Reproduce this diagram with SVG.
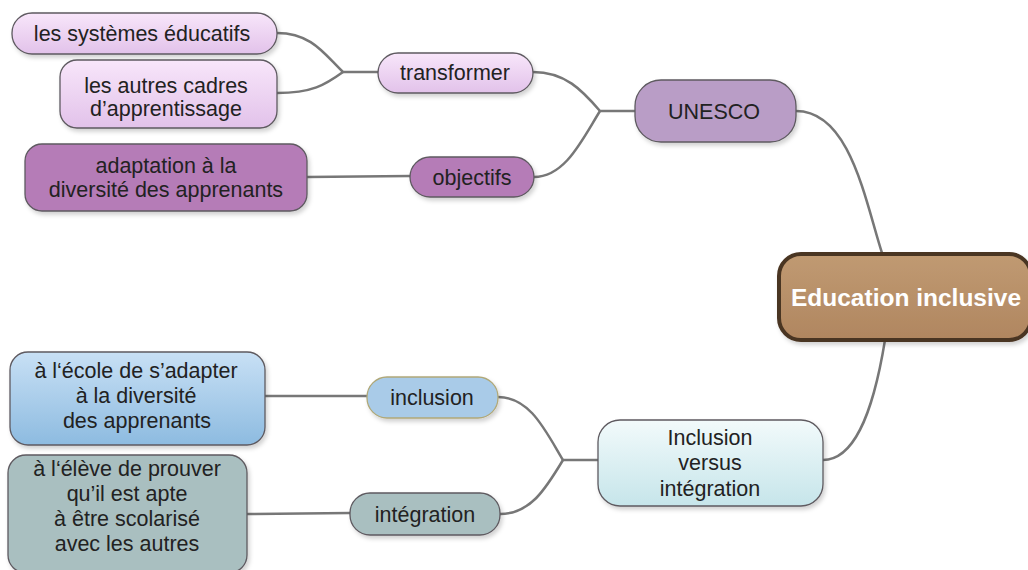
<svg xmlns="http://www.w3.org/2000/svg" width="1028" height="570" viewBox="0 0 1028 570">
<defs>
<filter id="sh" x="-10%" y="-10%" width="130%" height="140%">
<feDropShadow dx="2" dy="3" stdDeviation="2" flood-color="#000" flood-opacity="0.18"/>
</filter>
<linearGradient id="gPink" x1="0" y1="0" x2="0" y2="1"><stop offset="0" stop-color="#f8e6fa"/><stop offset="1" stop-color="#e2c2ea"/></linearGradient>
<linearGradient id="gBlue" x1="0" y1="0" x2="0" y2="1"><stop offset="0" stop-color="#c8e0f5"/><stop offset="1" stop-color="#8dbbe0"/></linearGradient>
<linearGradient id="gCyan" x1="0" y1="0" x2="0" y2="1"><stop offset="0" stop-color="#f2fafb"/><stop offset="1" stop-color="#c6e5ea"/></linearGradient>
<linearGradient id="gBrown" x1="0" y1="0" x2="0" y2="1"><stop offset="0" stop-color="#c09a72"/><stop offset="1" stop-color="#b08660"/></linearGradient>
</defs>
<style>
.n{stroke:#5e5a60;stroke-width:1.3;filter:url(#sh)}
.t{font-family:"Liberation Sans",Arial,sans-serif;font-size:21.5px;fill:#222;text-anchor:middle}
.c{fill:none;stroke:#777;stroke-width:2.5}
</style>
<g id="connectors">
<path class="c" d="M277,33 C312,33 325,55 343,72 L378,72"/>
<path class="c" d="M277,93 C312,93 325,85 343,72"/>
<path class="c" d="M307,177 L410,176"/>
<path class="c" d="M533,72 C565,72 582,90 600,111 L635,111"/>
<path class="c" d="M534,177 C565,177 582,140 600,111"/>
<path class="c" d="M796,111 C850,111 865,200 882,253"/>
<path class="c" d="M885,340 C872,420 852,460 823,460"/>
<path class="c" d="M265,396 L367,396"/>
<path class="c" d="M247,514 L350,513"/>
<path class="c" d="M498,397 C530,397 545,430 563,460 L598,460"/>
<path class="c" d="M500,514 C530,514 545,490 563,460"/>
</g>
<g id="n-systemes">
<rect class="n" x="12" y="13" width="265" height="41" rx="20" fill="url(#gPink)"/>
<text class="t" x="142" y="41">les systèmes éducatifs</text>
</g>
<g id="n-autres">
<rect class="n" x="60" y="60" width="217" height="68" rx="17" fill="url(#gPink)"/>
<text class="t" x="166" y="93">les autres cadres</text>
<text class="t" x="166" y="116">d’apprentissage</text>
</g>
<g id="n-adaptation">
<rect class="n" x="25" y="144" width="282" height="67" rx="17" fill="#b57cb7"/>
<text class="t" x="166" y="173">adaptation à la</text>
<text class="t" x="166" y="197">diversité des apprenants</text>
</g>
<g id="n-transformer">
<rect class="n" x="378" y="53" width="155" height="40" rx="20" fill="url(#gPink)"/>
<text class="t" x="455" y="80">transformer</text>
</g>
<g id="n-objectifs">
<rect class="n" x="410" y="157" width="124" height="40" rx="20" fill="#b57cb7"/>
<text class="t" x="472" y="185">objectifs</text>
</g>
<g id="n-unesco">
<rect class="n" x="635" y="80" width="161" height="62" rx="26" fill="#b99dc6"/>
<text class="t" x="714" y="119">UNESCO</text>
</g>
<g id="n-education">
<rect x="779" y="254" width="252" height="86" rx="22" fill="url(#gBrown)" stroke="#4a3422" stroke-width="4" filter="url(#sh)"/>
<text x="906" y="306" style="font-family:'Liberation Sans',Arial,sans-serif;font-size:24.5px;font-weight:bold;fill:#fff;text-anchor:middle">Education inclusive</text>
</g>
<g id="n-versus">
<rect class="n" x="598" y="420" width="225" height="86" rx="22" fill="url(#gCyan)"/>
<text class="t" x="710" y="445">Inclusion</text>
<text class="t" x="710" y="470">versus</text>
<text class="t" x="710" y="496">intégration</text>
</g>
<g id="n-inclusion">
<rect x="367" y="377" width="131" height="41" rx="20" fill="#a9cbe8" stroke="#b0a878" stroke-width="1.3" filter="url(#sh)"/>
<text class="t" x="432" y="405">inclusion</text>
</g>
<g id="n-integration">
<rect class="n" x="350" y="493" width="150" height="42" rx="20" fill="#a9bfc0"/>
<text class="t" x="425" y="522">intégration</text>
</g>
<g id="n-ecole">
<rect class="n" x="10" y="352" width="255" height="93" rx="18" fill="url(#gBlue)"/>
<text class="t" x="136" y="378">à l‘école de s’adapter</text>
<text class="t" x="136" y="403">à la diversité</text>
<text class="t" x="137" y="428">des apprenants</text>
</g>
<g id="n-eleve">
<rect class="n" x="8" y="455" width="239" height="118" rx="18" fill="#a9bfc0"/>
<text class="t" x="127" y="476">à l‘élève de prouver</text>
<text class="t" x="127" y="501">qu’il est apte</text>
<text class="t" x="127" y="526">à être scolarisé</text>
<text class="t" x="127" y="551">avec les autres</text>
</g>
</svg>
